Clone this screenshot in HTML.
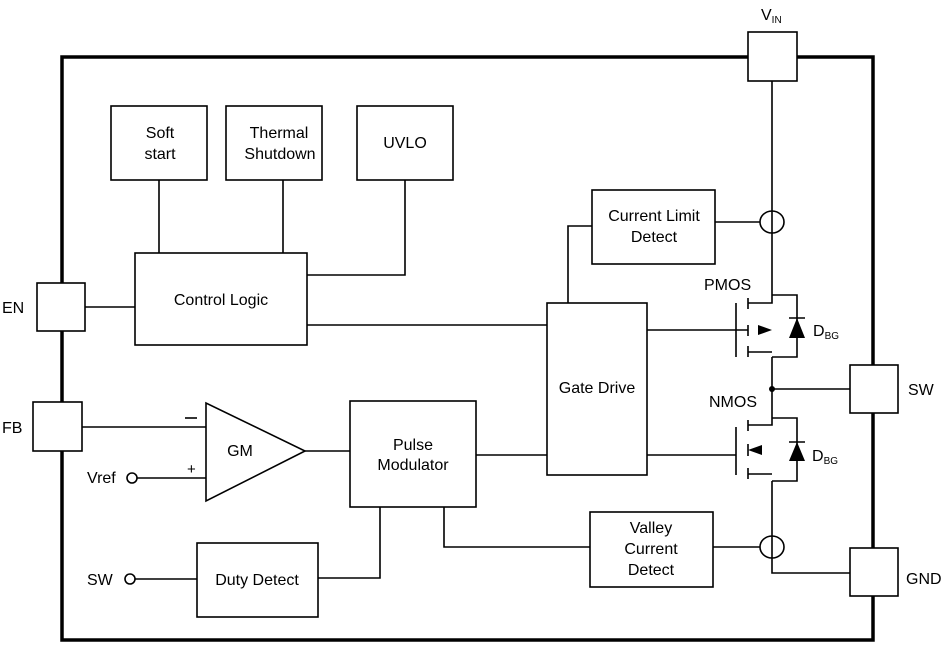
<!DOCTYPE html>
<html><head><meta charset="utf-8"><style>
html,body{margin:0;padding:0;background:#fff;}
svg{display:block;}
text{font-family:"Liberation Sans",Arial,sans-serif;font-size:16px;fill:#000;}
</style></head><body>
<svg width="949" height="646" viewBox="0 0 949 646" xmlns="http://www.w3.org/2000/svg">
<g fill="none" stroke="#000">
<rect x="62" y="57" width="811" height="583" stroke-width="3.5"/>
<g stroke-width="1.6" fill="#fff">
<rect x="748" y="32" width="49" height="49"/>
<rect x="37" y="283" width="48" height="48"/>
<rect x="33" y="402" width="49" height="49"/>
<rect x="850" y="365" width="48" height="48"/>
<rect x="850" y="548" width="48" height="48"/>
<rect x="111" y="106" width="96" height="74"/>
<rect x="226" y="106" width="96" height="74"/>
<rect x="357" y="106" width="96" height="74"/>
<rect x="135" y="253" width="172" height="92"/>
<rect x="592" y="190" width="123" height="74"/>
<rect x="547" y="303" width="100" height="172"/>
<rect x="350" y="401" width="126" height="106"/>
<polygon points="206,403 206,501 305,451"/>
<rect x="197" y="543" width="121" height="74"/>
<rect x="590" y="512" width="123" height="75"/>
</g>
<g stroke-width="1.6">
<path d="M772 81V303H748M772 295H797V357H772M748 330H736M772 357V425H748M772 418H797V481H772M772 481V573H850M772 389H850M748 474H772M748 352H772"/>
<path d="M736 303V357M736 427V475"/>
<path d="M748 298V309M748 325V336M748 346V357M748 420V431M748 444V456M748 468V479"/>
<path d="M789 318H805M789 442H805"/>
<path d="M159 180V253M283 180V253M405 180V275H307M85 307H135M307 325H547M568 303V226H592M715 222H760M647 330H736M647 455H736M82 427H206M137 478H206M305 451H350M476 455H547M380 507V578H318M444 507V547H590M713 547H760M135 579H197"/>
<ellipse cx="772" cy="222" rx="12" ry="11"/>
<ellipse cx="772" cy="547" rx="12" ry="11"/>
<circle cx="132" cy="478" r="5"/>
<circle cx="130" cy="579" r="5"/>
<path d="M185 418H197"/>
</g>
</g>
<g fill="#000">
<polygon points="797,318 789,338 805,338"/>
<polygon points="797,442 789,461 805,461"/>
<polygon points="772,330 758,325 758,335"/>
<polygon points="748,450 762,445 762,455"/>
<circle cx="772" cy="389" r="3"/>
</g>
<text x="160" y="138" text-anchor="middle">Soft</text><text x="160" y="159" text-anchor="middle">start</text>
<text x="279" y="138" text-anchor="middle">Thermal</text><text x="280" y="159" text-anchor="middle">Shutdown</text>
<text x="405" y="148" text-anchor="middle">UVLO</text>
<text x="221" y="305" text-anchor="middle">Control Logic</text>
<text x="654" y="221" text-anchor="middle">Current Limit</text><text x="654" y="242" text-anchor="middle">Detect</text>
<text x="597" y="393" text-anchor="middle">Gate Drive</text>
<text x="413" y="450" text-anchor="middle">Pulse</text><text x="413" y="470" text-anchor="middle">Modulator</text>
<text x="240" y="456" text-anchor="middle">GM</text>
<text x="257" y="585" text-anchor="middle">Duty Detect</text>
<text x="651" y="533" text-anchor="middle">Valley</text><text x="651" y="554" text-anchor="middle">Current</text><text x="651" y="575" text-anchor="middle">Detect</text>
<text x="187" y="474" style="font-size:15px">+</text>
<text x="87" y="483">Vref</text>
<text x="87" y="585">SW</text>
<text x="2" y="313">EN</text>
<text x="2" y="433">FB</text>
<text x="908" y="395">SW</text>
<text x="906" y="584">GND</text>
<text x="761" y="20">V<tspan style="font-size:10px" dy="3">IN</tspan></text>
<text x="704" y="290">PMOS</text>
<text x="709" y="407">NMOS</text>
<text x="813" y="336">D<tspan style="font-size:10px" dy="3">BG</tspan></text>
<text x="812" y="461">D<tspan style="font-size:10px" dy="3">BG</tspan></text>
</svg>
</body></html>
